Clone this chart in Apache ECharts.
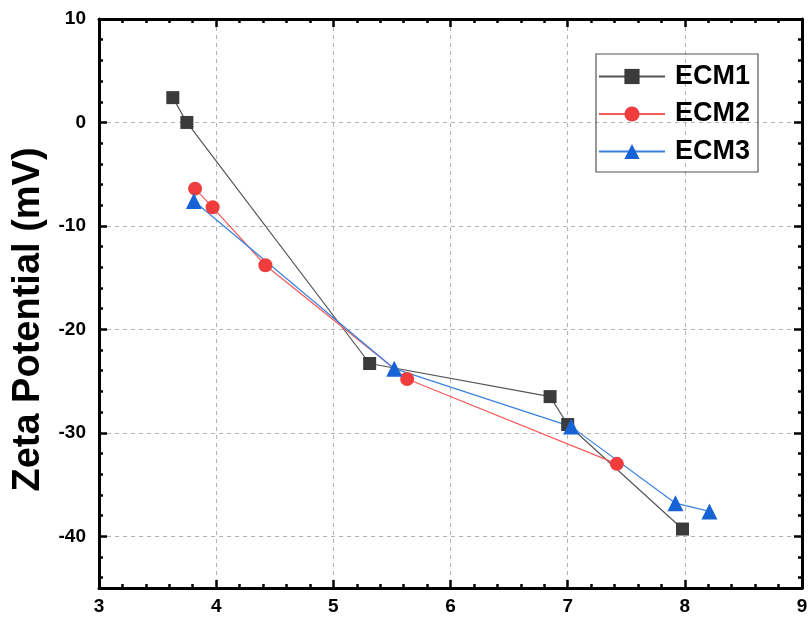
<!DOCTYPE html>
<html>
<head>
<meta charset="utf-8">
<script src="https://cdn.jsdelivr.net/npm/echarts@6/dist/echarts.min.js"></script>
<style>
html,body{margin:0;padding:0;background:#fff;}
#c{width:809px;height:621px;}
</style>
</head>
<body>
<div id="c"></div>
<script>
var seriesNames = ['ECM1', 'ECM2', 'ECM3'];
var ecm1X = [3.63, 3.75, 5.31, 6.85, 7.00, 7.98];
var ecm1Y = [2.4, 0.0, -23.3, -26.5, -29.2, -39.3];
var ecm2X = [3.82, 3.97, 4.42, 5.63, 7.42];
var ecm2Y = [-6.4, -8.2, -13.8, -24.8, -33.0];
var ecm3X = [3.81, 5.52, 7.03, 7.92, 8.21];
var ecm3Y = [-7.6, -23.8, -29.4, -36.8, -37.6];
var xTicks = [3, 4, 5, 6, 7, 8, 9];
var yTicks = [-40, -30, -20, -10, 0, 10];
var yMin = -45, yMax = 10;
var yTitle = 'Zeta Potential (mV)';

function pairs(xs, ys) { return xs.map(function (x, i) { return [x, ys[i]]; }); }
// minor tick positions every 2 units between major ticks (5 subdivisions)
var yMinor = [];
for (var v = -44; v <= 8; v += 2) { if (v % 10 !== 0) yMinor.push(v); }

var font = 'Liberation Sans, Arial, sans-serif';
var tickStyle = { color: '#000', width: 2.5 };
function axisCommon(showLabels, showSplit) {
  return {
    axisLine: { show: true, onZero: false, lineStyle: { color: '#000', width: 3 } },
    axisTick: { show: true, inside: true, length: 8, lineStyle: tickStyle },
    minorTick: { show: true, splitNumber: 5, length: 4, lineStyle: tickStyle },
    axisLabel: { show: showLabels, color: '#000', fontFamily: font, fontWeight: 'bold', fontSize: 19 },
    splitLine: { show: showSplit, lineStyle: { color: '#b4b4b4', type: [4, 4], width: 1 } }
  };
}

var xMain = Object.assign({ type: 'value', position: 'bottom', min: xTicks[0], max: xTicks[xTicks.length - 1], interval: 1 }, axisCommon(true, true));
xMain.axisLabel.margin = 9;
var xTop = Object.assign({ type: 'value', position: 'top', min: xTicks[0], max: xTicks[xTicks.length - 1], interval: 1 }, axisCommon(false, false));

function yAxisMajor(pos, labels, split) {
  var a = Object.assign({ type: 'value', position: pos, min: yMin, max: yMax }, axisCommon(labels, split));
  a.axisTick.customValues = yTicks;
  a.axisLabel.customValues = yTicks;
  a.minorTick = { show: false };
  return a;
}
function yAxisMinor(pos) {
  return {
    type: 'value', position: pos, min: yMin, max: yMax,
    axisLine: { show: false },
    axisTick: { show: true, inside: true, length: 4, lineStyle: tickStyle, customValues: yMinor },
    axisLabel: { show: false },
    splitLine: { show: false }
  };
}
var yMain = yAxisMajor('left', true, true);
yMain.axisLabel.margin = 13;
yMain.name = yTitle;
yMain.nameLocation = 'middle';
yMain.nameGap = 49;
yMain.nameTextStyle = { color: '#000', fontFamily: font, fontWeight: 'bold', fontSize: 38, padding: [0, 32, 0, 0] };
var yRight = yAxisMajor('right', false, false);

var chart = echarts.init(document.getElementById('c'), null, { renderer: 'canvas' });
chart.setOption({
  backgroundColor: '#fff',
  animation: false,
  grid: { left: 99, right: 7, top: 19, bottom: 33, containLabel: false, outerBoundsMode: 'none' },
  xAxis: [xMain, xTop],
  yAxis: [yMain, yRight, yAxisMinor('left'), yAxisMinor('right')],
  legend: {
    data: seriesNames,
    right: 51, top: 54,
    orient: 'vertical',
    itemWidth: 66, itemHeight: 19, itemGap: 10.5,
    padding: [9, 8, 7, 2],
    borderColor: '#555', borderWidth: 1.2,
    textStyle: { color: '#000', fontFamily: font, fontWeight: 'bold', fontSize: 27, padding: [0, 0, 0, 5] }
  },
  series: [
    { name: seriesNames[0], type: 'line', data: pairs(ecm1X, ecm1Y), symbol: 'rect', symbolSize: 13,
      itemStyle: { color: '#3b3b3b' }, lineStyle: { color: '#555', width: 1.2 } },
    { name: seriesNames[1], type: 'line', data: pairs(ecm2X, ecm2Y), symbol: 'circle', symbolSize: 14,
      itemStyle: { color: '#f03c3c' }, lineStyle: { color: '#f35a5a', width: 1.2 } },
    { name: seriesNames[2], type: 'line', data: pairs(ecm3X, ecm3Y), symbol: 'triangle', symbolSize: 16,
      itemStyle: { color: '#1763d6' }, lineStyle: { color: '#3a80e0', width: 1.2 } }
  ]
});
</script>
</body>
</html>
